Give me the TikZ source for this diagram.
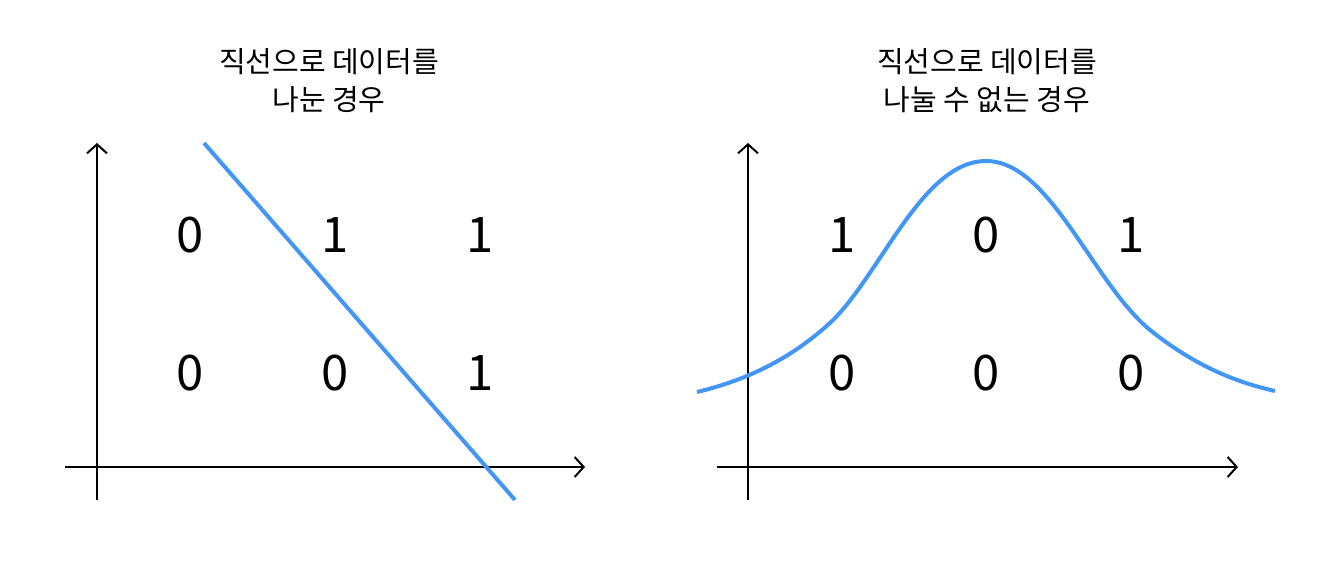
\documentclass[tikz,border=0pt]{standalone}
\usepackage{fontspec}
\setmainfont{Noto Sans CJK KR}
\usetikzlibrary{arrows.meta}
\definecolor{lineblue}{RGB}{66,150,245}
\tikzset{
  axis/.style={line width=2pt, -{Straight Barb[length=9pt,width=20pt,line width=2pt]}},
  sep/.style={lineblue, line width=4pt},
  num/.style={font=\fontsize{49}{49}\selectfont, inner sep=0pt},
  ttl/.style={font=\fontsize{29}{38}\selectfont, align=center, inner sep=0pt}
}
\begin{document}
\begin{tikzpicture}[x=1pt,y=-1pt]
\useasboundingbox (0,0) rectangle (1333,564);
% left panel
\coordinate (ly0) at (97,500);
\coordinate (ly1) at (97,143);
\coordinate (lx0) at (65,467);
\coordinate (lx1) at (585,467);
\draw[axis] (ly0) -- (ly1);
\draw[axis] (lx0) -- (lx1);
\coordinate (ls0) at (204,143);
\coordinate (ls1) at (515,500);
\draw[sep] (ls0) -- (ls1);
\node[num] (a1) at (190,235) {0};
\node[num] (a2) at (335,235) {1};
\node[num] (a3) at (480,235) {1};
\node[num] (a4) at (190,373) {0};
\node[num] (a5) at (335,373) {0};
\node[num] (a6) at (480,373) {1};
\node[ttl] (t1) at (329,81) {직선으로 데이터를\\나눈 경우};
% right panel
\coordinate (ry0) at (748,500);
\coordinate (ry1) at (748,143);
\coordinate (rx0) at (717,467);
\coordinate (rx1) at (1238,467);
\draw[axis] (ry0) -- (ry1);
\draw[axis] (rx0) -- (rx1);
\coordinate (c0) at (697,392);
\coordinate (c1) at (830,323);
\coordinate (c2) at (986,161);
\coordinate (c3) at (1150,330);
\coordinate (c4) at (1275,391);
\draw[sep] (c0) .. controls (760,377) and (800,350) .. (c1)
  .. controls (880,276) and (922,161) .. (c2)
  .. controls (1050,161) and (1092,282) .. (c3)
  .. controls (1190,362) and (1230,381) .. (c4);
\node[num] (b1) at (842,235) {1};
\node[num] (b2) at (986,235) {0};
\node[num] (b3) at (1131,235) {1};
\node[num] (b4) at (842,373) {0};
\node[num] (b5) at (986,373) {0};
\node[num] (b6) at (1131,373) {0};
\node[ttl] (t2) at (987,81) {직선으로 데이터를\\나눌 수 없는 경우};
\end{tikzpicture}
\end{document}
